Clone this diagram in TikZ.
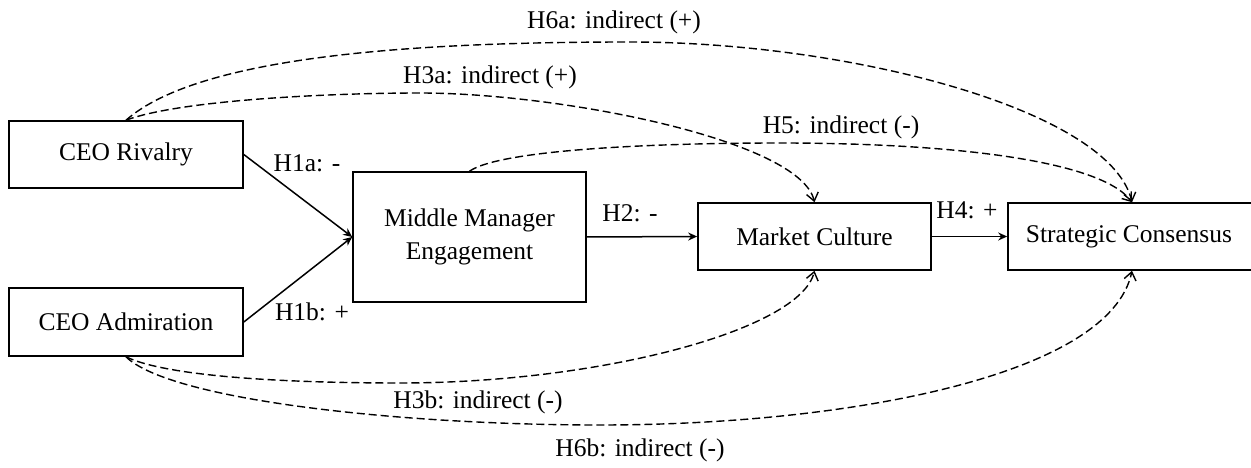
\documentclass[tikz,border=0pt]{standalone}
\usepackage{fontspec}
\setmainfont{Liberation Serif}
\usetikzlibrary{arrows.meta}
\begin{document}
\begin{tikzpicture}[x=1pt,y=-1pt,
  box/.style={draw,line width=1.6pt,inner sep=0pt,align=center,font=\fontsize{25.5}{33}\selectfont},
  lbl/.style={inner sep=0pt,font=\fontsize{25.5}{30}\selectfont},
  direct/.style={line width=1.5pt,-{Stealth[length=9pt,width=8pt]}},
  indirect/.style={line width=1.4pt,dash pattern=on 8pt off 4pt,-{Straight Barb[length=8pt,width=12pt]}}]
\useasboundingbox (0,0) rectangle (1251,468);
\clip (0,0) rectangle (1251,468);
\node[box,minimum width=234pt,minimum height=67pt] (riv) at (126,154.5) {CEO Rivalry};
\node[box,minimum width=234pt,minimum height=68pt] (adm) at (126,322) {CEO Admiration};
\node[box,minimum width=233pt,minimum height=130pt] (mm) at (469.5,237) {Middle Manager\\Engagement};
\node[box,minimum width=233pt,minimum height=67pt] (mc) at (814.5,236.5) {Market Culture};
\node[box,minimum width=280pt,minimum height=67pt] (sc) at (1148,236.5) {Strategic Consensus\hspace*{38pt}};

\draw[direct] (riv.east) -- (mm.west);
\draw[direct] (adm.east) -- (mm.west);
\draw[direct] (mm.east) -- (mc.west);
\draw[direct] (mc.east) -- (sc.west);

\draw[indirect] (riv.north) .. controls (200,55) and (420,42) .. (630,42)
  .. controls (850,42) and (1110,110) .. ([xshift=-16pt]sc.north);
\draw[indirect] (riv.north) .. controls (180,100) and (330,93) .. (420,93)
  .. controls (560,93) and (800,140) .. (mc.north);
\draw[indirect] (mm.north) .. controls (500,150) and (650,143) .. (780,143)
  .. controls (950,143) and (1100,160) .. ([xshift=-16pt]sc.north);
\draw[indirect] (adm.south) .. controls (170,378) and (300,383) .. (400,383)
  .. controls (600,383) and (800,330) .. (mc.south);
\draw[indirect] (adm.south) .. controls (170,400) and (400,425) .. (600,425)
  .. controls (850,425) and (1110,375) .. ([xshift=-16pt]sc.south);

\node[lbl] (l6a) at (614,22) {H6a: indirect (+)};
\node[lbl] (l3a) at (490,77) {H3a: indirect (+)};
\node[lbl] (l5) at (841,127) {H5: indirect (-)};
\node[lbl] (l1a) at (307,163) {H1a: -};
\node[lbl] (l1b) at (312,312) {H1b: +};
\node[lbl] (l2) at (630,213) {H2: -};
\node[lbl] (l4) at (967,210) {H4: +};
\node[lbl] (l3b) at (478,402) {H3b: indirect (-)};
\node[lbl] (l6b) at (640,450) {H6b: indirect (-)};
\end{tikzpicture}
\end{document}
